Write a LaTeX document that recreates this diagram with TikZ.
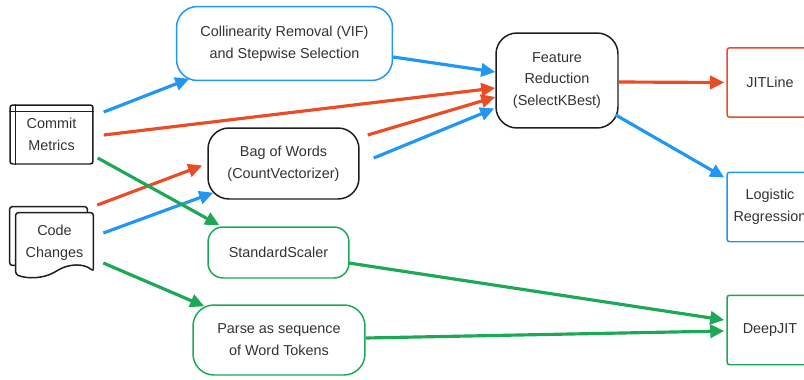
\documentclass[tikz,border=0pt]{standalone}
\usepackage{fontspec}
\setmainfont{Liberation Sans}
\usepackage{xcolor}
\usepackage{tikz}
\usetikzlibrary{arrows.meta, positioning, calc}

\definecolor{jblue}{RGB}{33,150,243}
\definecolor{jred}{RGB}{234,76,37}
\definecolor{jgreen}{RGB}{29,168,86}
\definecolor{jtext}{RGB}{51,51,51}
\definecolor{jline}{RGB}{30,30,30}

\begin{document}
\begin{tikzpicture}[
    x=0.02cm, y=-0.02cm,
    >={Triangle[length=8pt,width=7.5pt]},
    lbl/.style={font=\fontsize{8.2}{12.5}\selectfont, text=jtext, align=center},
    stage/.style={lbl, draw, fill=white, line width=0.85pt, rounded corners=0.42cm},
    model/.style={lbl, draw, fill=white, line width=0.85pt, rounded corners=1.5pt,
                  minimum width=1.72cm, minimum height=1.39cm},
    src/.style={draw=jline, line width=0.85pt, rounded corners=1.5pt},
    flow/.style={->, line width=1.8pt}
]
\useasboundingbox (0,0) rectangle (804,379);

% Input sources
\node[lbl, src, minimum width=1.66cm, minimum height=1.18cm] (cm) at (51.5,134.5) {Commit\\Metrics};
\draw[src] ($(cm.north west)+(6,0)$) -- ($(cm.south west)+(6,0)$);
\draw[src] ($(cm.north west)+(0,7)$) -- ($(cm.north east)+(0,7)$);

\node[lbl, minimum width=1.54cm, minimum height=1.2cm] (cc) at (54.5,243) {Code\\Changes};
\draw[src] ($(cc.south west)+(0,-8)$) -- ($(cc.south west)+(-6,-8)$) -- ($(cc.north west)+(-6,-6)$)
    -- ($(cc.north east)+(-6,-6)$) -- ($(cc.north east)+(-6,0)$);
\draw[src] (cc.north west) -- (cc.north east) -- ($(cc.south east)+(0,-2)$)
    .. controls ($(cc.south east)+(-9,-10)$) and ($(cc.south)+(15,-10)$) .. ($(cc.south)+(1.5,-2)$)
    .. controls ($(cc.south)+(-11,5)$) and ($(cc.south west)+(12,6)$) .. ($(cc.south west)+(0,1)$)
    -- cycle;

% Preprocessing stages
\node[stage, draw=jblue, minimum width=4.32cm, minimum height=1.48cm] (coll) at (284.5,43.5)
    {Collinearity Removal (VIF)\\and Stepwise Selection};
\node[stage, draw=jline, minimum width=2.44cm, minimum height=1.9cm] (fr) at (557,80.5)
    {Feature\\Reduction\\(SelectKBest)};
\node[stage, draw=jline, minimum width=3.02cm, minimum height=1.42cm] (bow) at (283.5,163.5)
    {Bag of Words\\(CountVectorizer)};
\node[stage, draw=jgreen, rounded corners=0.3cm, minimum width=2.82cm, minimum height=1.02cm] (ss) at (278.5,252.5)
    {StandardScaler};
\node[stage, draw=jgreen, minimum width=3.44cm, minimum height=1.4cm] (parse) at (279,340)
    {Parse as sequence\\of Word Tokens};

% Models
\node[model, draw=jred] (jit) at (770,82.5) {JITLine};
\node[model, draw=jblue] (lr) at (770,207) {Logistic\\Regression};
\node[model, draw=jgreen] (dj) at (770,330) {DeepJIT};

% JITLine path (red)
\draw[flow, jred] ($(cm.east)+(10,0.5)$) -- ($(fr.west)+(0,7.5)$);
\draw[flow, jred] ($(cc.east)+(4,-38)$) -- ($(bow.west)+(-5,2)$);
\draw[flow, jred] ($(bow.east)+(8,-28.5)$) -- ($(fr.west)+(0,16.5)$);
\draw[flow, jred] ($(fr.east)+(0,1.5)$) -- ($(jit.west)+(-2,0)$);

% Logistic Regression path (blue)
\draw[flow, jblue] ($(cm.east)+(10,-22.5)$) -- ($(coll.south west)+(13.5,-2.5)$);
\draw[flow, jblue] ($(coll.east)+(0,13.5)$) -- ($(fr.west)+(0,-8.5)$);
\draw[flow, jblue] ($(cc.east)+(10,-10)$) -- ($(bow.south west)+(6,-7)$);
\draw[flow, jblue] ($(bow.east)+(14,-5.5)$) -- ($(fr.west)+(-1,28)$);
\draw[flow, jblue] ($(fr.east)+(-3,34.5)$) -- ($(lr.north west)+(-2,6)$);

% DeepJIT path (green)
\draw[flow, jgreen] ($(cm.east)+(4,23.5)$) -- ($(ss.north west)+(12,-1)$);
\draw[flow, jgreen] ($(cc.east)+(10,20)$) -- ($(parse.north west)+(12,2)$);
\draw[flow, jgreen] ($(ss.east)+(-1,10.5)$) -- ($(dj.west)+(-2,-10)$);
\draw[flow, jgreen] ($(parse.east)+(0,-2)$) -- ($(dj.west)+(-2,1)$);

\end{tikzpicture}
\end{document}
